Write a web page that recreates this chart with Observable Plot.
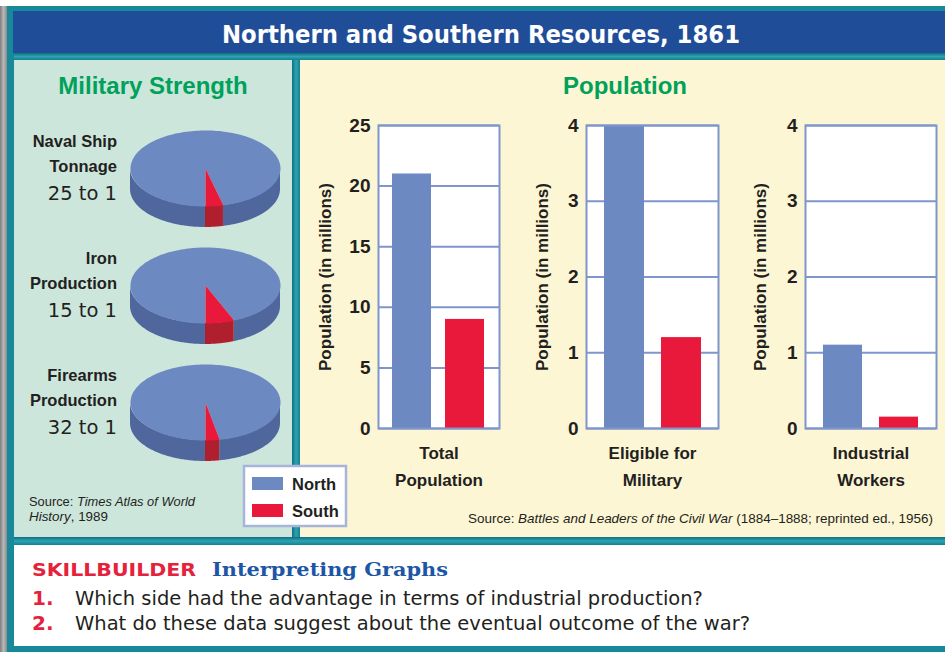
<!DOCTYPE html>
<html><head><meta charset="utf-8">
<script src="https://cdn.jsdelivr.net/npm/d3@7"></script>
<script src="https://cdn.jsdelivr.net/npm/@observablehq/plot@0.6"></script>
<style>
body{margin:0;background:#fff;}
#root{position:relative;width:945px;height:652px;overflow:hidden;font-family:"Liberation Sans",Arial,sans-serif;color:#231f20;}
#root > svg, #root > div{position:absolute;}
</style></head><body><div id="root"></div>
<script>
// ---------- data ----------
const pieLabelLines = [["Naval Ship","Tonnage"],["Iron","Production"],["Firearms","Production"]];
const pieNorth = [25, 15, 32];
const pieSouth = [1, 1, 1];
const barLabelLines = [["Total","Population"],["Eligible for","Military"],["Industrial","Workers"]];
const northValues = [21, 4, 1.1];
const southValues = [9, 1.2, 0.15];
const yMax = [25, 4, 4];
const yTicks = [[0,5,10,15,20,25],[0,1,2,3,4],[0,1,2,3,4]];
const sides = ["North","South"];
const sideColors = ["#6c89c2","#e8193b"];

// ---------- layout ----------
const root = document.getElementById("root");
function box(l,t,w,h,bg){const d=document.createElement("div");d.style.cssText=`left:${l}px;top:${t}px;width:${w}px;height:${h}px;background:${bg}`;root.appendChild(d);return d;}
box(0,6,7,646,"linear-gradient(90deg,#7e7e7e,#b8b8b8 50%,#8c8c8c)");
box(7,6,938,646,"#17899a");
box(13,11,932,42,"#1f4d98");
box(14,53,931,7,"linear-gradient(180deg,#0f6f80,#2ea3b2 50%,#12808f)");
box(292,60,8,477,"linear-gradient(90deg,#0f6f80,#2ea3b2 50%,#12808f)");
box(14,60,278,477,"#cde6dc");
box(300,60,645,477,"#fdf6d4");
box(14,537,931,8,"linear-gradient(180deg,#0f6f80,#2ea3b2 50%,#12808f)");
box(14,545,931,101,"#ffffff");

function place(node,l,t){node.style.position="absolute";node.style.left=l+"px";node.style.top=t+"px";root.appendChild(node);}

// ---------- pies ----------
const RX=75, RY=38, DEPTH=21, PAD=4;
const pieCX=205, pieCY0=168, pieStep=117;
pieNorth.forEach((nv,i)=>{
  const th = 2*Math.PI*pieSouth[i]/(nv+pieSouth[i]);
  const arc=(a0,a1,n=90)=>d3.range(n+1).map(k=>{const a=a0+(a1-a0)*k/n;return {x:RX*Math.sin(a), y:RY*Math.cos(a)};});
  const side=(a0,a1)=>arc(a0,a1).map(p=>({x:p.x,y1:p.y,y2:p.y+DEPTH}));
  const c={x:0,y:0};
  const plot = Plot.plot({
    width:2*(RX+PAD), height:2*RY+DEPTH+2*PAD, margin:0,
    x:{domain:[-RX-PAD,RX+PAD], axis:null},
    y:{domain:[-RY-PAD,RY+DEPTH+PAD], reverse:true, axis:null},
    style:{background:"transparent", overflow:"visible"},
    marks:[
      Plot.areaY(side(-Math.PI/2,0),{x:"x",y1:"y1",y2:"y2",fill:"#4f679c"}),
      Plot.areaY(side(th,Math.PI/2),{x:"x",y1:"y1",y2:"y2",fill:"#4f679c"}),
      Plot.areaY(side(0,th),{x:"x",y1:"y1",y2:"y2",fill:"#b01f2d"}),
      Plot.line([c,...arc(th,2*Math.PI,180),c],{x:"x",y:"y",fill:sideColors[0],stroke:"none"}),
      Plot.line([c,...arc(0,th,30),c],{x:"x",y:"y",fill:sideColors[1],stroke:"none"})
    ]
  });
  place(plot, pieCX-RX-PAD, pieCY0+i*pieStep-RY-PAD);
});

// ---------- bar charts ----------
const frames=[{left:378,width:121,pad:0.26,labelDx:-53},{left:586,width:132,pad:0.3,labelDx:-44},{left:805,width:131,pad:0.3,labelDx:-45}];
const FT=125, FH=303, MT=12, MB=70, MR=4, gridColor="#7e96cc";
frames.forEach((f,i)=>{
  const ML = i===0?75:60;
  const data = sides.map((s,j)=>({side:s, value: j? southValues[i]: northValues[i]}));
  const plot = Plot.plot({
    width: ML+f.width+MR, height: MT+FH+MB,
    marginLeft:ML, marginRight:MR, marginTop:MT, marginBottom:MB,
    x:{domain:sides, padding:f.pad, axis:null},
    y:{domain:[0,yMax[i]]},
    color:{domain:sides, range:sideColors},
    style:{background:"transparent", overflow:"visible", fontFamily:"'Liberation Sans',Arial,sans-serif", color:"#231f20"},
    marks:[
      Plot.frame({fill:"white", stroke:"none"}),
      Plot.ruleY(yTicks[i],{stroke:gridColor, strokeWidth:2}),
      Plot.barY(data,{x:"side", y:"value", fill:"side"}),
      Plot.frame({stroke:gridColor, strokeWidth:2}),
      Plot.axisY(yTicks[i],{tickSize:0, tickPadding:8, tickFormat:"d", fontSize:19, fontWeight:"bold", label:null}),
      Plot.text(["Population (in millions)"],{frameAnchor:"left", textAnchor:"middle", rotate:-90, dx:f.labelDx, fontSize:17, fontWeight:"bold"}),
      Plot.text([barLabelLines[i].join("\n")],{frameAnchor:"bottom", lineAnchor:"top", dy:11, lineHeight:1.59, fontSize:17, fontWeight:"bold"})
    ]
  });
  place(plot, f.left-ML, FT-MT);
});

// ---------- text overlay ----------
const svg = d3.select(root).append("svg").attr("width",945).attr("height",652)
  .style("left","0px").style("top","0px").style("pointer-events","none");
function txt(s,x,y,o={}){
  const t=svg.append("text").attr("x",x).attr("y",y).text(s)
   .attr("font-family",o.family||"'Liberation Sans',Arial,sans-serif")
   .attr("font-size",o.size||16).attr("font-weight",o.weight||"normal")
   .attr("fill",o.fill||"#231f20").attr("text-anchor",o.anchor||"start");
  if(o.ls) t.attr("letter-spacing",o.ls);
  if(o.len) t.attr("textLength",o.len).attr("lengthAdjust","spacingAndGlyphs");
  return t;
}
txt("Northern and Southern Resources, 1861",481,43,{family:"'DejaVu Sans',sans-serif",size:24,weight:"bold",fill:"#fff",anchor:"middle",len:518});
txt("Military Strength",153,94,{size:24,weight:"bold",fill:"#00a15a",anchor:"middle"});
txt("Population",625,94,{size:24,weight:"bold",fill:"#00a15a",anchor:"middle"});

pieLabelLines.forEach((lines,i)=>{
  const cy=pieCY0+i*pieStep;
  txt(lines[0],117,cy-21,{size:16.5,weight:"bold",anchor:"end"});
  txt(lines[1],117,cy+4,{size:16.5,weight:"bold",anchor:"end"});
  txt(`${pieNorth[i]} to ${pieSouth[i]}`,117,cy+32,{family:"'DejaVu Sans',sans-serif",size:19.5,anchor:"end"});
});

let t=txt("Source: ",29,506,{size:13,len:166});
t.append("tspan").attr("font-style","italic").text("Times Atlas of World");
t=txt("",29,521,{size:13,len:79});
t.append("tspan").attr("font-style","italic").text("History");
t.append("tspan").text(", 1989");
t=txt("Source: ",933,523,{size:13,anchor:"end",len:465});
t.append("tspan").attr("font-style","italic").text("Battles and Leaders of the Civil War");
t.append("tspan").text(" (1884–1888; reprinted ed., 1956)");

// legend
svg.append("rect").attr("x",244).attr("y",466).attr("width",102).attr("height",60).attr("fill","#fff").attr("stroke","#a7b5da").attr("stroke-width",2.5);
sides.forEach((s,j)=>{
  svg.append("rect").attr("x",252).attr("y",477+j*27).attr("width",31).attr("height",13).attr("fill",sideColors[j]);
  txt(s,292,490+j*27,{size:16.5,weight:"bold"});
});

// skillbuilder
txt("SKILLBUILDER",32,576,{family:"'DejaVu Sans',sans-serif",size:18.5,weight:"bold",fill:"#e4223c",len:164});
txt("Interpreting Graphs",212,576,{family:"'DejaVu Serif',serif",size:19,weight:"bold",fill:"#1d56a4",len:236});
txt("1.",32,605,{family:"'DejaVu Sans',sans-serif",size:20,weight:"bold",fill:"#e4223c"});
txt("Which side had the advantage in terms of industrial production?",75,605,{family:"'DejaVu Sans',sans-serif",size:19.5});
txt("2.",32,630,{family:"'DejaVu Sans',sans-serif",size:20,weight:"bold",fill:"#e4223c"});
txt("What do these data suggest about the eventual outcome of the war?",75,630,{family:"'DejaVu Sans',sans-serif",size:19.5});
</script></body></html>
